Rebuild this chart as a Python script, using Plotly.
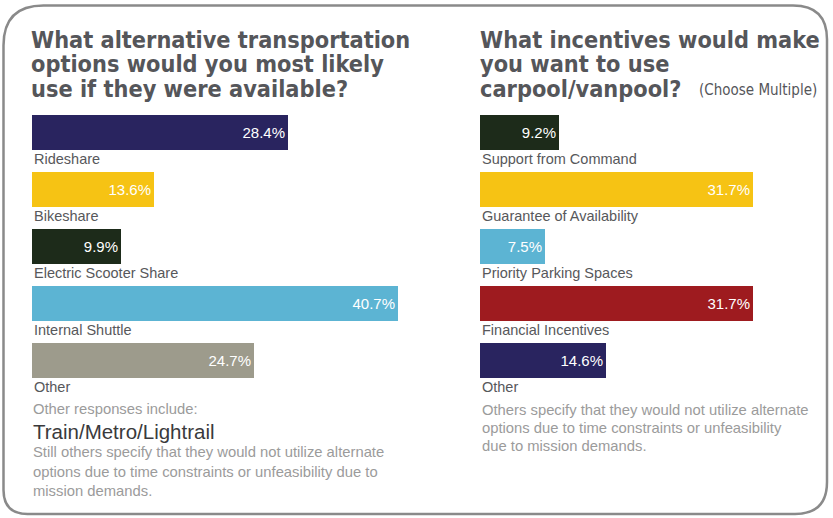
import plotly.graph_objects as go

# Survey results: alternative transportation options
modes = ["Rideshare", "Bikeshare", "Electric Scooter Share", "Internal Shuttle", "Other"]
mode_pct = [28.4, 13.6, 9.9, 40.7, 24.7]
mode_colors = ["#29245f", "#f6c314", "#1d2b1a", "#5cb4d3", "#9d9b8c"]

# Survey results: carpool/vanpool incentives (multiple choice)
incentives = ["Support from Command", "Guarantee of Availability", "Priority Parking Spaces",
              "Financial Incentives", "Other"]
incentive_pct = [9.2, 31.7, 7.5, 31.7, 14.6]
incentive_colors = ["#1d2b1a", "#f6c314", "#5cb4d3", "#9e1b1f", "#29245f"]

left_title = ["What alternative transportation", "options would you most likely",
              "use if they were available?"]
right_title = ["What incentives would make", "you want to use", "carpool/vanpool?"]
right_title_note = "(Choose Multiple)"

left_notes_intro = "Other responses include:"
left_notes_highlight = "Train/Metro/Lightrail"
left_notes = ["Still others specify that they would not utilize alternate",
              "options due to time constraints or unfeasibility due to",
              "mission demands."]
right_notes = ["Others specify that they would not utilize alternate",
               "options due to time constraints or unfeasibility",
               "due to mission demands."]

W, H = 833, 518
TITLE_FONT = "DejaVu Sans Condensed, Arial Narrow, sans-serif"
BODY_FONT = "Liberation Sans, Arial, sans-serif"
TITLE_COLOR = "#55565a"
LABEL_COLOR = "#57585b"
NOTE_COLOR = "#9b9b9b"

fig = go.Figure()


def bar_trace(cats, vals, colors, xa, ya):
    return go.Bar(
        y=cats, x=vals, orientation="h", width=0.614,
        marker=dict(color=colors, line=dict(width=0)),
        text=[f"{v:.1f}%" for v in vals],
        textposition="inside", insidetextanchor="end",
        textfont=dict(color="white", size=15, family=BODY_FONT),
        constraintext="none", cliponaxis=False,
        xaxis=xa, yaxis=ya, hoverinfo="skip", showlegend=False,
    )


fig.add_trace(bar_trace(modes, mode_pct, mode_colors, "x", "y"))
fig.add_trace(bar_trace(incentives, incentive_pct, incentive_colors, "x2", "y2"))

y_dom = [1 - 389 / H, 1 - 104 / H]
hidden = dict(showgrid=False, zeroline=False, showticklabels=False, ticks="", showline=False)

fig.update_layout(
    width=W, height=H,
    margin=dict(l=0, r=0, t=0, b=0),
    paper_bgcolor="white", plot_bgcolor="rgba(0,0,0,0)",
    xaxis=dict(domain=[32 / W, (32 + 45 * 9.0) / W], range=[0, 45], **hidden),
    yaxis=dict(domain=y_dom, range=[4.5, -0.5], type="category", **hidden),
    xaxis2=dict(domain=[480 / W, (480 + 40 * 8.6) / W], range=[0, 40], anchor="y2", **hidden),
    yaxis2=dict(domain=y_dom, range=[4.5, -0.5], type="category", anchor="x2", **hidden),
    xaxis3=dict(domain=[0, 1], range=[0, W], anchor="y3", visible=False, fixedrange=True),
    yaxis3=dict(domain=[0, 1], range=[H, 0], anchor="x3", visible=False, fixedrange=True),
    bargap=0,
)

# Rounded frame around both panels
L, R, T, B = 3.5, 827, 5.5, 514
rtl, rtr, rbr, rbl = 40, 34, 32, 24
frame = (f"M {L + rtl},{T} L {R - rtr},{T} Q {R},{T} {R},{T + rtr} "
         f"L {R},{B - rbr} Q {R},{B} {R - rbr},{B} "
         f"L {L + rbl},{B} Q {L},{B} {L},{B - rbl} "
         f"L {L},{T + rtl} Q {L},{T} {L + rtl},{T} Z")
fig.add_shape(type="path", path=frame, xref="x3", yref="y3",
              line=dict(color="#8a8a8a", width=2.5), fillcolor="rgba(0,0,0,0)", layer="below")

annotations = []


def text_at(x, y, s, size, color, family=BODY_FONT, bold=False, anchor="left"):
    if bold:
        s = f"<b>{s}</b>"
    annotations.append(dict(x=x, y=y, xref="x3", yref="y3", text=s, showarrow=False,
                            xanchor=anchor, yanchor="middle",
                            font=dict(size=size, color=color, family=family)))


# Panel headings, one line at a time for tight leading
for i, line in enumerate(left_title):
    text_at(29, 39 + 24.5 * i, line, 23.3, TITLE_COLOR, TITLE_FONT, bold=True)
for i, line in enumerate(right_title):
    text_at(478, 39 + 24.5 * i, line, 23.3, TITLE_COLOR, TITLE_FONT, bold=True)
text_at(819, 90, right_title_note, 15, TITLE_COLOR, TITLE_FONT, anchor="right")

# Category names beneath each bar
for cats, xa, ya in [(modes, "x", "y"), (incentives, "x2", "y2")]:
    for c in cats:
        annotations.append(dict(x=0, y=c, xref=xa, yref=ya, text=c, showarrow=False,
                                xanchor="left", yanchor="top", yshift=-16,
                                font=dict(size=14.5, color=LABEL_COLOR, family=BODY_FONT)))

# Free-text notes
text_at(31, 409, left_notes_intro, 14.8, NOTE_COLOR)
text_at(31, 431, left_notes_highlight, 20.5, "#3a3a3c")
for i, line in enumerate(left_notes):
    text_at(31, 452 + 19.5 * i, line, 14.8, NOTE_COLOR)
for i, line in enumerate(right_notes):
    text_at(480, 410 + 18 * i, line, 14.8, NOTE_COLOR)

fig.update_layout(annotations=annotations)

fig.write_html("out.html")
